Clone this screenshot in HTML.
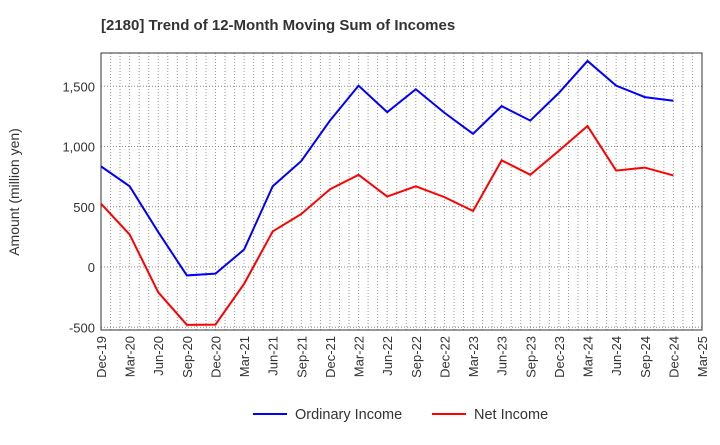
<!DOCTYPE html>
<html><head><meta charset="utf-8"><style>
body{margin:0;background:#fff;font-family:"Liberation Sans",sans-serif;}
</style></head><body>
<svg id="c" width="720" height="440" xmlns="http://www.w3.org/2000/svg">
<text x="101" y="30" font-size="15" font-weight="bold" fill="#333">[2180]  Trend of 12-Month Moving Sum of Incomes</text>
<text transform="translate(19,192) rotate(-90)" text-anchor="middle" font-size="14" fill="#333">Amount (million yen)</text>
<g id="grid"></g><g id="axes"></g><g id="series"></g>
<g>
<line x1="253" y1="414" x2="287" y2="414" stroke="#0000ff" stroke-width="2"/>
<text x="295" y="419" font-size="14.5" fill="#333">Ordinary Income</text>
<line x1="432" y1="414" x2="466" y2="414" stroke="#ff0000" stroke-width="2"/>
<text x="474" y="419" font-size="14.5" fill="#333">Net Income</text>
</g>
</svg>
<script>
const categories=["Dec-19","Mar-20","Jun-20","Sep-20","Dec-20","Mar-21","Jun-21","Sep-21","Dec-21","Mar-22","Jun-22","Sep-22","Dec-22","Mar-23","Jun-23","Sep-23","Dec-23","Mar-24","Jun-24","Sep-24","Dec-24","Mar-25"];
const ordinaryIncome=[835,670,290,-70,-55,145,670,880,1215,1505,1285,1475,1280,1105,1335,1215,1445,1710,1505,1410,1380];
const netIncome=[525,270,-210,-480,-478,-140,295,440,645,765,585,670,580,465,885,765,965,1170,800,825,760];
const yTicks=[-500,0,500,1000,1500];
const yTickLabels=["-500","0","500","1,000","1,500"];
const L=101,R=702,T=53,B=330;
const x=i=>L+i*(R-L)/(categories.length-1);
const y=v=>267-v*0.1205;
const NS="http://www.w3.org/2000/svg";
function mk(tag,attrs,parent){const e=document.createElementNS(NS,tag);for(const k in attrs)e.setAttribute(k,attrs[k]);document.getElementById(parent).appendChild(e);return e;}
const months=(categories.length-1)*3;
for(let m=1;m<months;m++){const xx=L+m*(R-L)/months;
const g=mk("line",{x1:xx,x2:xx,y1:T,y2:B,stroke:"#999","stroke-dasharray":"1,2","stroke-width":1},"grid");

}
yTicks.forEach((v,i)=>{
const g=mk("line",{x1:L,x2:R,y1:y(v),y2:y(v),stroke:"#888","stroke-dasharray":"1,2"},"grid");


const t=mk("text",{x:L-6,y:y(v)+5,"text-anchor":"end","font-size":"13",fill:"#333"},"axes");t.textContent=yTickLabels[i];

});
categories.forEach((c,i)=>{
const t=mk("text",{transform:`translate(${x(i)+5},${B+6}) rotate(-90)`,"text-anchor":"end","font-size":"13",fill:"#333"},"axes");t.textContent=c;

});
const fr=mk("rect",{x:L,y:T,width:R-L,height:B-T,fill:"none",stroke:"#333","stroke-width":1},"axes");


[[ordinaryIncome,"#0000ff","ordinary-income-line"],[netIncome,"#ff0000","net-income-line"]].forEach(([d,col,n])=>{
const p=mk("polyline",{points:d.map((v,i)=>x(i)+","+y(v)).join(" "),fill:"none",stroke:col,"stroke-width":2},"series");

});
</script>
</body></html>
